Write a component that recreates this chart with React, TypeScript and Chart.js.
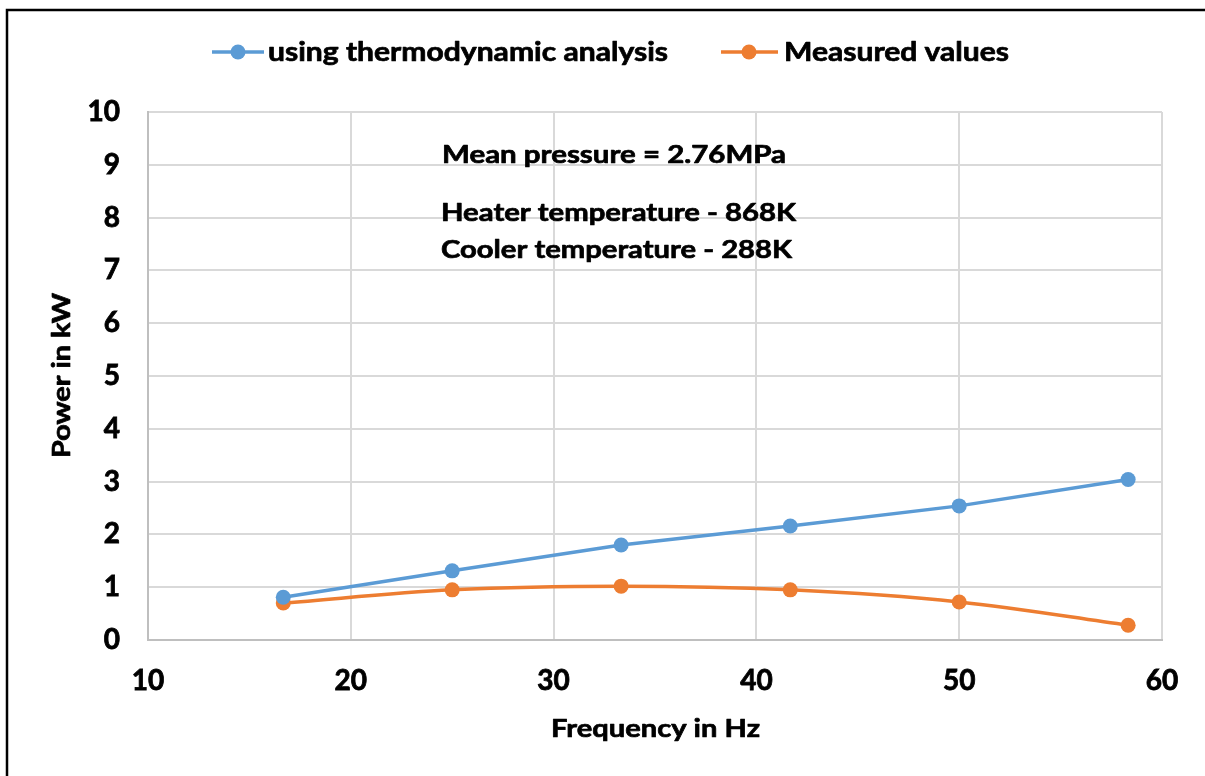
import React, { useEffect, useRef } from "react";
import { Chart, registerables } from "chart.js";

Chart.register(...registerables);

const frequencies = [16.67, 25, 33.33, 41.67, 50, 58.33];
const thermoPower = [0.81, 1.31, 1.8, 2.16, 2.54, 3.04];
const measuredPower = [0.7, 0.95, 1.02, 0.95, 0.72, 0.28];
const seriesNames = ["using thermodynamic analysis", "Measured values"];
const annotations = ["Mean pressure = 2.76MPa", "Heater temperature - 868K", "Cooler temperature - 288K"];
const xTitle = "Frequency in Hz";
const yTitle = "Power in kW";

const BLUE = "#5B9BD5";
const ORANGE = "#ED7D31";
const FONT = "Lato";

function fitText(ctx: CanvasRenderingContext2D, text: string, x: number, y: number, targetW: number, size: number) {
  ctx.save();
  ctx.font = `bold ${size}px ${FONT}`;
  ctx.textAlign = "left";
  ctx.textBaseline = "alphabetic";
  const w = ctx.measureText(text).width;
  ctx.translate(x, y);
  ctx.scale(targetW / w, 1);
  ctx.fillStyle = "#000";
  ctx.strokeStyle = "#000";
  ctx.lineWidth = 0.7;
  ctx.lineJoin = "round";
  ctx.fillText(text, 0, 0);
  ctx.strokeText(text, 0, 0);
  ctx.restore();
}

const overlayPlugin = {
  id: "overlay",
  afterDraw(chart: any) {
    const ctx: CanvasRenderingContext2D = chart.ctx;
    // outer border
    ctx.save();
    ctx.strokeStyle = "#000";
    ctx.lineWidth = 2.5;
    ctx.strokeRect(7, 10, 1400, 1000);
    ctx.restore();

    // legend
    const legend = [
      { color: BLUE, x1: 212, x2: 264, mx: 238, tx: 268, tw: 400, name: seriesNames[0] },
      { color: ORANGE, x1: 721, x2: 778, mx: 749, tx: 784, tw: 225, name: seriesNames[1] },
    ];
    legend.forEach((l) => {
      ctx.save();
      ctx.strokeStyle = l.color;
      ctx.lineWidth = 3.5;
      ctx.beginPath();
      ctx.moveTo(l.x1, 52);
      ctx.lineTo(l.x2, 52);
      ctx.stroke();
      ctx.fillStyle = l.color;
      ctx.beginPath();
      ctx.arc(l.mx, 52, 7.5, 0, Math.PI * 2);
      ctx.fill();
      ctx.restore();
      fitText(ctx, l.name, l.tx, 61, l.tw, 26);
    });

    // annotations
    fitText(ctx, annotations[0], 442, 163, 344, 25);
    fitText(ctx, annotations[1], 441, 221, 355, 25);
    fitText(ctx, annotations[2], 441, 258, 351, 25);

    // axis titles
    fitText(ctx, xTitle, 551, 737, 209, 25);
    ctx.save();
    ctx.translate(70, 458);
    ctx.rotate(-Math.PI / 2);
    fitText(ctx, yTitle, 0, 0, 165, 25);
    ctx.restore();
  },
};

export default function App() {
  const ref = useRef<HTMLCanvasElement>(null);
  useEffect(() => {
    if (!ref.current) return;
    const chart = new Chart(ref.current, {
      type: "scatter",
      data: {
        datasets: [
          {
            label: seriesNames[0],
            data: frequencies.map((f, i) => ({ x: f, y: thermoPower[i] })),
            showLine: true,
            borderColor: BLUE,
            backgroundColor: BLUE,
            borderWidth: 3.5,
            pointRadius: 7.5,
            pointBorderWidth: 0,
            tension: 0,
          },
          {
            label: seriesNames[1],
            data: frequencies.map((f, i) => ({ x: f, y: measuredPower[i] })),
            showLine: true,
            borderColor: ORANGE,
            backgroundColor: ORANGE,
            borderWidth: 3.5,
            pointRadius: 7.5,
            pointBorderWidth: 0,
            tension: 0.35,
          },
        ],
      },
      options: {
        responsive: false,
        animation: false,
        devicePixelRatio: 1,
        layout: { padding: { left: 0, top: 112, right: 43, bottom: 0 } },
        plugins: { legend: { display: false }, tooltip: { enabled: false } },
        scales: {
          x: {
            type: "linear",
            min: 10,
            max: 60,
            ticks: { stepSize: 10, padding: 24, color: "#000", textStrokeColor: "#000", textStrokeWidth: 0.8, font: { family: FONT, size: 28, weight: "bold" } },
            grid: { color: "#D9D9D9", lineWidth: 2, drawTicks: false },
            border: { color: "#BFBFBF", width: 2 },
            afterFit: (s: any) => { s.height = 136; },
          },
          y: {
            type: "linear",
            min: 0,
            max: 10,
            ticks: { stepSize: 1, padding: 28, color: "#000", textStrokeColor: "#000", textStrokeWidth: 0.8, font: { family: FONT, size: 28, weight: "bold" } },
            grid: { color: "#D9D9D9", lineWidth: 2, drawTicks: false },
            border: { color: "#BFBFBF", width: 2 },
            afterFit: (s: any) => { s.width = 148; },
          },
        },
      } as any,
      plugins: [overlayPlugin],
    });
    return () => chart.destroy();
  }, []);
  return (
    <canvas
      ref={ref}
      width={1205}
      height={776}
      style={{ position: "fixed", left: 0, top: 0, width: 1205, height: 776, background: "#fff" }}
    />
  );
}
